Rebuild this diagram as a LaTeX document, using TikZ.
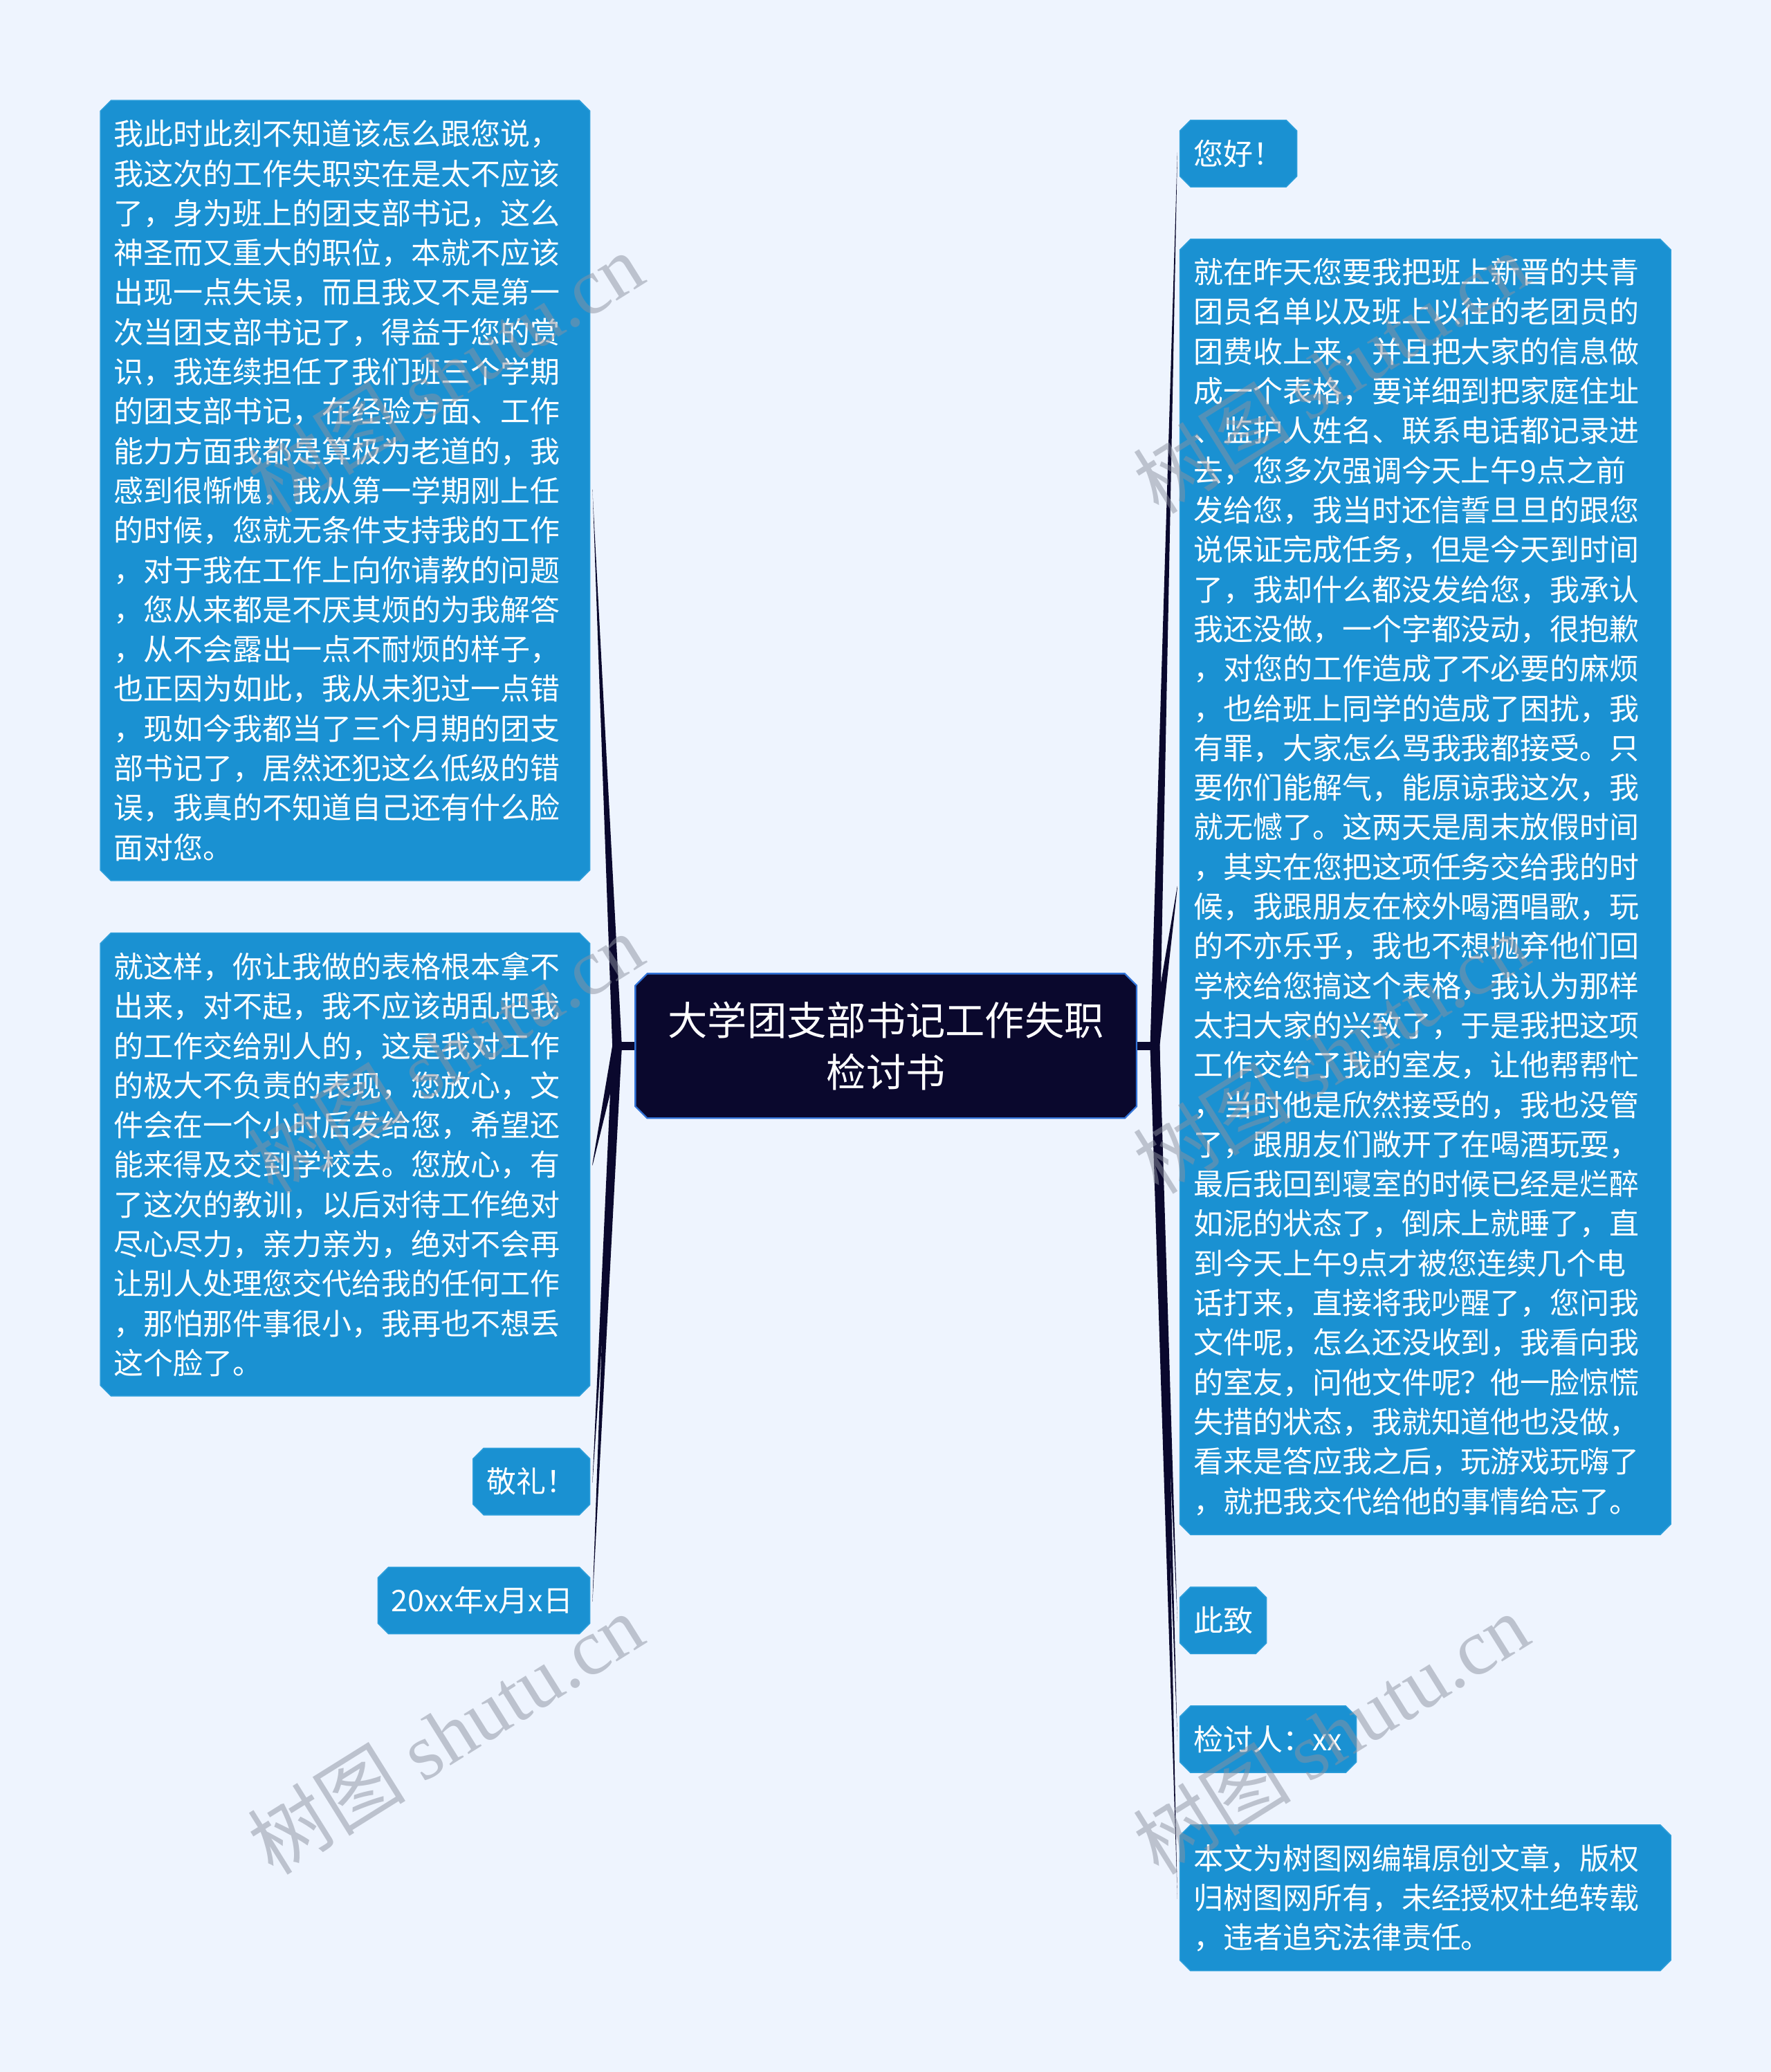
\documentclass[tikz,border=0pt]{standalone}
\usepackage{fontspec}
\setmainfont{Noto Sans CJK SC}
\newfontfamily\cjk{Noto Sans CJK SC}
\newfontfamily\wmlat{Liberation Serif}
\usetikzlibrary{calc}
\pgfdeclarelayer{pg}
\pgfdeclarelayer{bg}
\pgfdeclarelayer{fg}
\pgfsetlayers{pg,bg,main,fg}
\definecolor{pagebg}{RGB}{238,244,254}
\definecolor{boxblue}{RGB}{26,145,210}
\definecolor{boxedge}{RGB}{45,158,218}
\definecolor{navy}{RGB}{10,8,45}
\definecolor{rootedge}{RGB}{50,115,215}
\definecolor{wmcol}{RGB}{140,146,160}
\newcommand\octpath[2]{([xshift=#2]#1.north west) -- ([xshift=-#2]#1.north east) -- ([yshift=-#2]#1.north east) -- ([yshift=#2]#1.south east) -- ([xshift=-#2]#1.south east) -- ([xshift=#2]#1.south west) -- ([yshift=#2]#1.south west) -- ([yshift=-#2]#1.north west) -- cycle}
\newcommand\taper[2]{\fill[navy] ([xshift=-3.6pt]#1) -- ([yshift=0.8pt]#2) -- ([yshift=-0.8pt]#2) -- ([xshift=3.6pt]#1) -- cycle;}
\tikzset{
  leaf/.style={rectangle, inner sep=0pt, anchor=north west, text=white, align=left,
    font=\fontsize{22.5}{30}\selectfont},
  rootbox/.style={rectangle, inner sep=0pt, text=white, align=center,
    font=\fontsize{30}{39}\selectfont, minimum width=379pt, minimum height=109pt},
  wmark/.style={text=wmcol, opacity=0.5, font=\fontsize{60}{60}\selectfont, inner sep=0pt},
}
\begin{document}
\begin{tikzpicture}[x=1pt,y=-1pt]
\useasboundingbox (0,0) rectangle (1340,1568);
\begin{pgfonlayer}{pg}
\fill[pagebg] (0,0) rectangle (1340,1568);
\end{pgfonlayer}

\node[rootbox] (root) at (670.5,791.5) {大学团支部书记工作失职\\检讨书};

\node[leaf, minimum width=370pt, minimum height=590pt, text width=350pt] (l1) at (76,76) {我此时此刻不知道该怎么跟您说，\\我这次的工作失职实在是太不应该\\了，身为班上的团支部书记，这么\\神圣而又重大的职位，本就不应该\\出现一点失误，而且我又不是第一\\次当团支部书记了，得益于您的赏\\识，我连续担任了我们班三个学期\\的团支部书记，在经验方面、工作\\能力方面我都是算极为老道的，我\\感到很惭愧，我从第一学期刚上任\\的时候，您就无条件支持我的工作\\，对于我在工作上向你请教的问题\\，您从来都是不厌其烦的为我解答\\，从不会露出一点不耐烦的样子，\\也正因为如此，我从未犯过一点错\\，现如今我都当了三个月期的团支\\部书记了，居然还犯这么低级的错\\误，我真的不知道自己还有什么脸\\面对您。};

\node[leaf, minimum width=370pt, minimum height=350pt, text width=350pt] (l2) at (76,706) {就这样，你让我做的表格根本拿不\\出来，对不起，我不应该胡乱把我\\的工作交给别人的，这是我对工作\\的极大不负责的表现，您放心，文\\件会在一个小时后发给您，希望还\\能来得及交到学校去。您放心，有\\了这次的教训，以后对待工作绝对\\尽心尽力，亲力亲为，绝对不会再\\让别人处理您交代给我的任何工作\\，那怕那件事很小，我再也不想丢\\这个脸了。};

\node[leaf, minimum width=88pt, minimum height=50pt, text width=68pt] (l3) at (358,1096) {敬礼！};
\node[leaf, minimum width=160pt, minimum height=50pt, text width=140pt] (l4) at (286,1186) {20xx年x月x日};

\node[leaf, minimum width=88pt, minimum height=50pt, text width=68pt] (r1) at (893,91) {您好！};

\node[leaf, minimum width=371pt, minimum height=980pt, text width=351pt] (r2) at (893,181) {就在昨天您要我把班上新晋的共青\\团员名单以及班上以往的老团员的\\团费收上来，并且把大家的信息做\\成一个表格，要详细到把家庭住址\\、监护人姓名、联系电话都记录进\\去，您多次强调今天上午9点之前\\发给您，我当时还信誓旦旦的跟您\\说保证完成任务，但是今天到时间\\了，我却什么都没发给您，我承认\\我还没做，一个字都没动，很抱歉\\，对您的工作造成了不必要的麻烦\\，也给班上同学的造成了困扰，我\\有罪，大家怎么骂我我都接受。只\\要你们能解气，能原谅我这次，我\\就无憾了。这两天是周末放假时间\\，其实在您把这项任务交给我的时\\候，我跟朋友在校外喝酒唱歌，玩\\的不亦乐乎，我也不想抛弃他们回\\学校给您搞这个表格，我认为那样\\太扫大家的兴致了，于是我把这项\\工作交给了我的室友，让他帮帮忙\\，当时他是欣然接受的，我也没管\\了，跟朋友们敞开了在喝酒玩耍，\\最后我回到寝室的时候已经是烂醉\\如泥的状态了，倒床上就睡了，直\\到今天上午9点才被您连续几个电\\话打来，直接将我吵醒了，您问我\\文件呢，怎么还没收到，我看向我\\的室友，问他文件呢？他一脸惊慌\\失措的状态，我就知道他也没做，\\看来是答应我之后，玩游戏玩嗨了\\，就把我交代给他的事情给忘了。};

\node[leaf, minimum width=65pt, minimum height=50pt, text width=45pt] (r3) at (893,1201) {此致};
\node[leaf, minimum width=133pt, minimum height=50pt, text width=113pt] (r4) at (893,1291) {检讨人：xx};
\node[leaf, minimum width=371pt, minimum height=110pt, text width=351pt] (r5) at (893,1381) {本文为树图网编辑原创文章，版权\\归树图网所有，未经授权杜绝转载\\，违者追究法律责任。};

\coordinate (lroot) at (467,791.5);
\coordinate (rroot) at (874,791.5);
\foreach \n in {l1,l2,l3,l4}{\coordinate (\n t) at ([xshift=2pt]\n.east);}
\foreach \n in {r1,r2,r3,r4,r5}{\coordinate (\n t) at ([xshift=-2pt]\n.west);}

\begin{pgfonlayer}{bg}
  % connectors
  \draw[navy, line width=6pt] (lroot) -- (root.west);
  \draw[navy, line width=6pt] (root.east) -- (rroot);
  \taper{lroot}{l1t}
  \taper{lroot}{l2t}
  \taper{lroot}{l3t}
  \taper{lroot}{l4t}
  \taper{rroot}{r1t}
  \taper{rroot}{r2t}
  \taper{rroot}{r3t}
  \taper{rroot}{r4t}
  \taper{rroot}{r5t}
  % boxes
  \foreach \n in {l1,l2,l3,l4,r1,r2,r3,r4,r5}{
    \filldraw[fill=boxblue, draw=boxedge, line width=0.8pt] \octpath{\n}{8pt};
  }
  \filldraw[fill=navy, draw=rootedge, line width=1.2pt] \octpath{root}{9pt};
\end{pgfonlayer}

\begin{pgfonlayer}{fg}
  \foreach \p/\nm in {{(337,282)}/wa,{(337,797)}/wb,{(337,1312)}/wc,{(1007,282)}/wd,{(1007,797)}/we,{(1007,1312)}/wf}{
    \node[wmark, rotate=32] (\nm) at \p {{\cjk 树图} {\wmlat shutu.cn}};
  }
\end{pgfonlayer}
\end{tikzpicture}
\end{document}
